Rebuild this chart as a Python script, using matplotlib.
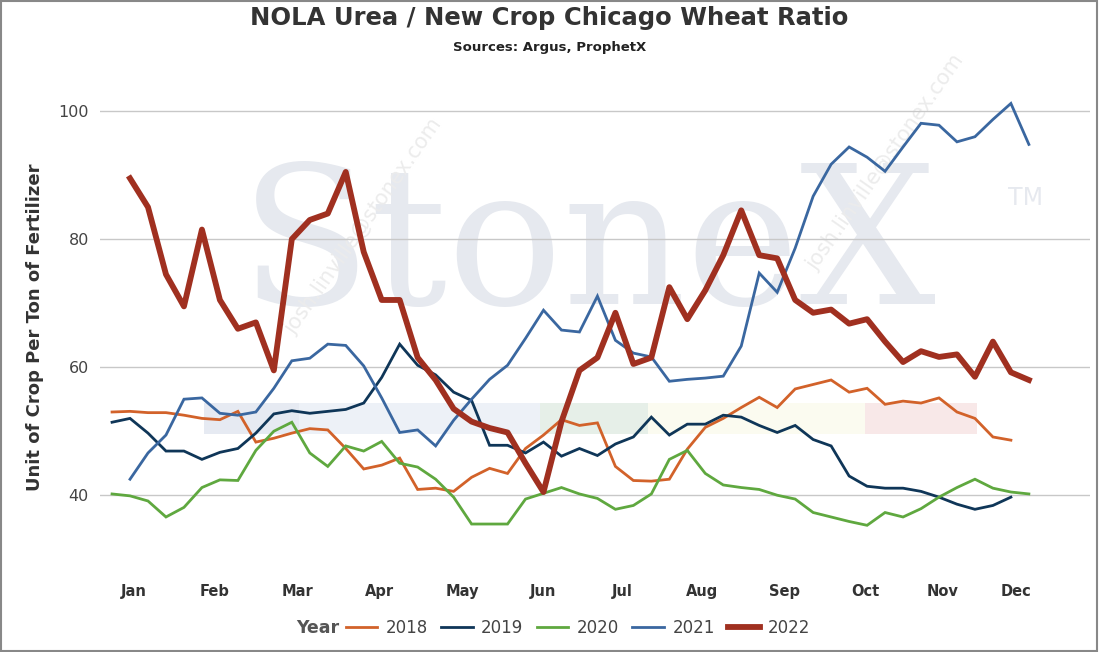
import matplotlib
matplotlib.use("Agg")
import matplotlib.pyplot as plt
from matplotlib.patches import Rectangle

# weekly values, index = week of year
Y2018 = [53, 53.1, 52.9, 52.9, 52.5, 52, 51.8, 53.1, 48.3, 48.9, 49.7, 50.4, 50.2, 47.3, 44.1,
         44.7, 45.8, 40.9, 41.1, 40.6, 42.8, 44.2, 43.4, 47.3, 49.4, 51.8, 50.9, 51.3, 44.5,
         42.3, 42.2, 42.5, 47.2, 50.6, 52, 53.7, 55.3, 53.7, 56.6, 57.3, 58, 56.1, 56.7, 54.2,
         54.7, 54.4, 55.2, 53, 52, 49.1, 48.6]
Y2019 = [51.4, 52, 49.7, 46.9, 46.9, 45.6, 46.7, 47.3, 49.7, 52.7, 53.2, 52.8, 53.1, 53.4,
         54.4, 58.4, 63.6, 60.3, 58.8, 56.1, 54.8, 47.8, 47.8, 46.6, 48.3, 46.1, 47.3, 46.2,
         48, 49.1, 52.2, 49.4, 51.1, 51.1, 52.5, 52.2, 50.9, 49.8, 50.9, 48.7, 47.7, 43, 41.4,
         41.1, 41.1, 40.6, 39.7, 38.6, 37.8, 38.4, 39.7]
Y2020 = [40.2, 39.9, 39.1, 36.6, 38.1, 41.2, 42.4, 42.3, 47, 50, 51.4, 46.6, 44.5, 47.7, 46.9,
         48.4, 45, 44.4, 42.5, 39.7, 35.5, 35.5, 35.5, 39.4, 40.3, 41.2, 40.2, 39.5, 37.8, 38.4,
         40.2, 45.6, 47, 43.4, 41.6, 41.2, 40.9, 40, 39.4, 37.3, 36.6, 35.9, 35.3, 37.3, 36.6,
         37.9, 39.7, 41.2, 42.5, 41.1, 40.5, 40.2]
Y2021 = [42.5, 46.6, 49.4, 55, 55.2, 52.8, 52.5, 53, 56.7, 61, 61.4, 63.6, 63.4, 60.2, 55.2,
         49.8, 50.2, 47.7, 51.7, 55, 58.1, 60.3, 64.5, 68.9, 65.8, 65.5, 71.1, 64.2, 62.2, 61.6,
         57.8, 58.1, 58.3, 58.6, 63.3, 74.7, 71.7, 78.6, 86.7, 91.7, 94.4, 92.8, 90.6, 94.4,
         98.1, 97.8, 95.2, 96, 98.7, 101.2, 94.8]
Y2022 = [89.5, 85, 74.5, 69.5, 81.5, 70.5, 66, 67, 59.5, 80, 83, 84, 90.5, 78, 70.5, 70.5,
         61.5, 58, 53.5, 51.5, 50.5, 49.8, 45, 40.5, 51.5, 59.5, 61.5, 68.5, 60.5, 61.5, 72.5,
         67.5, 72, 77.5, 84.5, 77.5, 77, 70.5, 68.5, 69, 66.8, 67.5, 64, 60.8, 62.5, 61.6, 62,
         58.5, 64, 59.2, 58]
START_WEEK = {"2018": 0, "2019": 0, "2020": 0, "2021": 1, "2022": 1}

MONTHS = ["Jan", "Feb", "Mar", "Apr", "May", "Jun", "Jul", "Aug", "Sep", "Oct", "Nov", "Dec"]
MONTH_POS = [1.2, 5.7, 10.3, 14.9, 19.5, 24.0, 28.4, 32.8, 37.4, 41.9, 46.2, 50.3]
Y_TICKS = [40, 60, 80, 100]

SERIES = [("2018", Y2018, "#d2622a", 2.0),
          ("2019", Y2019, "#0f3658", 2.0),
          ("2020", Y2020, "#5fa83f", 2.0),
          ("2021", Y2021, "#3a67a0", 2.0),
          ("2022", Y2022, "#a03020", 4.2)]

fig = plt.figure(figsize=(10.99, 6.52), dpi=100)
ax = fig.add_axes([100 / 1099, 1 - 565 / 652, 990 / 1099, 475 / 652])

# watermark
ax.text(26.5, 69.8, "StoneX", fontsize=138, family="DejaVu Serif", color="#e6e9ef",
        ha="center", va="baseline", zorder=0)
ax.text(50.8, 86.5, "TM", fontsize=17, color="#e6e9ef", ha="center", va="center", zorder=0)
for wx, wy in [(14, 82), (43, 92)]:
    ax.text(wx, wy, "josh.linville@stonex.com", fontsize=15, color="#ececec",
            rotation=55, ha="center", va="center", zorder=0)
bands = [(5.1, 10.4, "#e6eaf2"), (10.4, 23.8, "#edf1f7"), (23.8, 29.8, "#e6efe8"),
         (29.8, 41.9, "#fbfbf0"), (41.9, 48.1, "#f8e8e8")]
for x0, x1, c in bands:
    ax.add_patch(Rectangle((x0, 49.6), x1 - x0, 4.8, color=c, zorder=0, lw=0))

for name, vals, color, lw in SERIES:
    s = START_WEEK[name]
    ax.plot(range(s, s + len(vals)), vals, color=color, lw=lw, label=name, zorder=3,
            solid_joinstyle="miter" if lw < 3 else "round")

ax.set_xlim(-0.67, 54.4)
ax.set_ylim(29.1, 103.3)
ax.set_yticks(Y_TICKS)
ax.set_xticks(MONTH_POS)
ax.set_xticklabels(MONTHS, fontweight="bold", color="#333333", fontsize=10.5)
ax.tick_params(axis="y", labelsize=11.5, colors="#444444", length=0, pad=8)
ax.tick_params(axis="x", length=0, pad=14)
ax.grid(axis="y", color="#c8c8c8", lw=1)
for sp in ax.spines.values():
    sp.set_visible(False)
ax.set_ylabel("Unit of Crop Per Ton of Fertilizer", fontsize=13, fontweight="bold",
              color="#333333", labelpad=10)

fig.text(0.5, 1 - 18 / 652, "NOLA Urea / New Crop Chicago Wheat Ratio", ha="center",
         va="center", fontsize=17.5, fontweight="bold", color="#333333")
fig.text(0.5, 1 - 47 / 652, "Sources: Argus, ProphetX", ha="center", va="center",
         fontsize=9.5, fontweight="bold", color="#222222")

fig.text(318 / 1099, 1 - 628 / 652, "Year", ha="center", va="center", fontsize=12.5,
         fontweight="bold", color="#555555")
fig.legend(loc="center", bbox_to_anchor=(578 / 1099, 1 - 628 / 652), ncol=5, frameon=False,
           fontsize=12, handlelength=1.9, handletextpad=0.5, columnspacing=0.8,
           labelcolor="#444444")

fig.add_artist(Rectangle((0.001, 0.002), 0.997, 0.996, transform=fig.transFigure,
                         fill=False, ec="#888888", lw=1.5))
fig.savefig("out.png", dpi=100)
